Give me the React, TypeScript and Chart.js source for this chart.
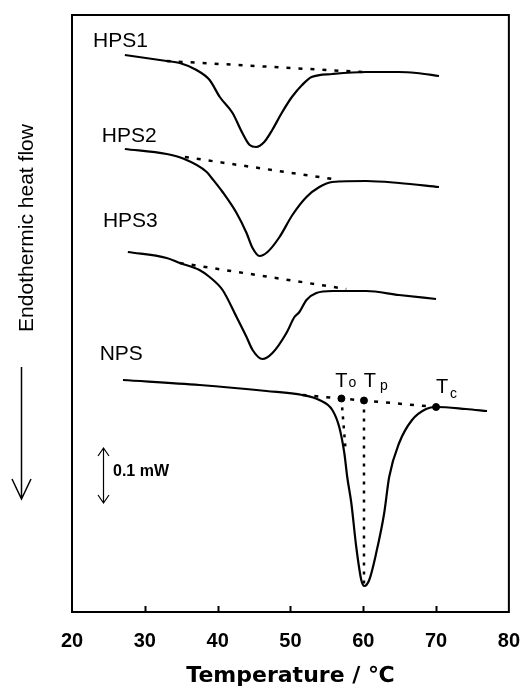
import React, { useEffect, useRef } from "react";
import { Chart, registerables } from "chart.js";

Chart.register(...registerables);

// Temperature (°C) and heat-flow (arbitrary units, offset per curve)
const HPS1_T = [27.26, 33.0, 34.8, 37.1, 38.9, 40.3, 42.05, 43.4, 44.4, 45.3, 46.4, 47.5, 48.8, 50.2, 51.6, 52.9, 55.75, 60.4, 64.9, 67.3, 70.4];
const HPS1_V = [557, 551, 549, 542, 532, 515, 499, 479, 467, 465, 470, 482, 499, 515, 527, 535, 538, 540, 540, 539, 536];
const HPS1_BASE_T = [33.0, 59.86];
const HPS1_BASE_V = [551, 540];

const HPS2_T = [27.26, 33.0, 35.07, 38.5, 39.18, 40.68, 42.6, 43.97, 44.8, 45.75, 46.85, 48.5, 50.27, 52.2, 53.97, 55.75, 60.4, 64.9, 70.4];
const HPS2_V = [463, 458, 454, 440, 434, 420, 399, 379, 364, 356, 360, 375, 397, 415, 425, 430, 431, 429, 425];
const HPS2_BASE_T = [35.5, 56.7];
const HPS2_BASE_V = [455, 432];

const HPS3_T = [27.67, 33.0, 34.8, 37.5, 38.9, 40.68, 42.6, 43.97, 44.8, 46.16, 47.53, 49.45, 50.55, 51.23, 52.2, 53.56, 55.75, 60.4, 64.9, 70.0];
const HPS3_V = [360, 354, 349, 342, 335, 322, 295, 275, 262, 253, 259, 279, 295, 300, 312, 319, 321, 321, 317, 313];
const HPS3_BASE_T = [34.8, 57.67];
const HPS3_BASE_V = [349, 323];

const NPS_T = [27.0, 37.53, 46.7, 51.64, 53.97, 55.75, 56.7, 57.4, 57.8, 58.36, 59.04, 59.73, 60.14, 60.82, 61.78, 62.88, 63.56, 64.93, 66.7, 68.63, 70.0, 74.1, 77.0];
const NPS_V = [232, 227, 221, 217, 212, 202, 185, 159, 135, 109, 65, 32, 26, 32, 59, 99, 135, 169, 192, 203, 205, 203, 201];
const NPS_BASE_T = [51.64, 70.0];
const NPS_BASE_V = [217, 205];

// Characteristic temperatures of NPS
const MARK_NAMES = ["o", "p", "c"];
const MARK_T = [57.0, 60.1, 70.0];
const MARK_V = [213.5, 211.5, 205];
const TO_DROP_T = [57.0, 57.6];
const TO_DROP_V = [213.5, 160];
const TP_DROP_T = [60.1, 60.1];
const TP_DROP_V = [211.5, 26];

const CURVE_NAMES = ["HPS1", "HPS2", "HPS3", "NPS"];
const CURVE_LABEL_T = [22.9, 24.1, 24.25, 23.8];
const CURVE_LABEL_V = [565, 470, 385, 252];

const X_TICKS = [20, 30, 40, 50, 60, 70, 80];
const X_TITLE = "Temperature / ℃";
const Y_TITLE = "Endothermic heat flow";
const SCALE_BAR = "0.1 mW";

const FONT = "'Liberation Sans', Arial, Helvetica, sans-serif";
const TICK_FONT = "'Liberation Sans Narrow', 'Liberation Sans', Arial, sans-serif";
const TITLE_FONT = "'DejaVu Sans', 'Liberation Sans', sans-serif";

const pts = (t: number[], v: number[]) => t.map((x, i) => ({ x, y: v[i] }));

const solid = (label: string, t: number[], v: number[]) => ({
  label,
  data: pts(t, v),
  borderColor: "#000",
  borderWidth: 2.2,
  pointRadius: 0,
  fill: false,
  cubicInterpolationMode: "monotone" as const,
});
const dashed = (label: string, t: number[], v: number[], dash: number[]) => ({
  label,
  data: pts(t, v),
  borderColor: "#000",
  borderWidth: 2.5,
  borderDash: dash,
  pointRadius: 0,
  fill: false,
});

// subscript placement relative to the "T" (dx from T centre, dy from T baseline)
const SUB_DX = [7, 10, 8];
const SUB_DY = [0, 3, 5];
const T_RAISE = [12, 14, 14];
const T_SHIFT = [0, 6, 6];

const overlay = {
  id: "overlay",
  afterDatasetsDraw(chart: any) {
    const { ctx, chartArea: a, scales } = chart;
    const xs = scales.x;
    const ys = scales.y;
    ctx.save();
    ctx.strokeStyle = "#000";
    ctx.fillStyle = "#000";
    // frame
    ctx.lineWidth = 2;
    ctx.strokeRect(a.left, a.top, a.right - a.left, a.bottom - a.top);
    // inward ticks
    ctx.lineWidth = 2;
    X_TICKS.slice(1, -1).forEach((t) => {
      const px = Math.round(xs.getPixelForValue(t)) + 0.5;
      ctx.beginPath();
      ctx.moveTo(px, a.bottom);
      ctx.lineTo(px, a.bottom - 6);
      ctx.stroke();
    });
    // curve labels
    ctx.font = `21px ${FONT}`;
    ctx.textAlign = "left";
    ctx.textBaseline = "alphabetic";
    CURVE_NAMES.forEach((n, i) => {
      ctx.fillText(n, xs.getPixelForValue(CURVE_LABEL_T[i]), ys.getPixelForValue(CURVE_LABEL_V[i]));
    });
    // T labels
    MARK_NAMES.forEach((s, i) => {
      const px = xs.getPixelForValue(MARK_T[i]) + T_SHIFT[i];
      const py = ys.getPixelForValue(MARK_V[i]) - T_RAISE[i];
      ctx.font = `20px ${FONT}`;
      ctx.textAlign = "center";
      ctx.fillText("T", px, py);
      ctx.font = `14px ${FONT}`;
      ctx.textAlign = "left";
      ctx.fillText(s, px + SUB_DX[i], py + SUB_DY[i]);
    });
    // y title with arrow
    ctx.save();
    ctx.translate(27, 228);
    ctx.rotate(-Math.PI / 2);
    ctx.font = `21px ${FONT}`;
    ctx.textAlign = "center";
    ctx.textBaseline = "middle";
    ctx.fillText(Y_TITLE, 0, 0);
    ctx.restore();
    ctx.lineWidth = 1.5;
    ctx.beginPath();
    ctx.moveTo(21.5, 367);
    ctx.lineTo(21.5, 499);
    ctx.moveTo(12, 479);
    ctx.lineTo(21.5, 499);
    ctx.lineTo(31, 479);
    ctx.stroke();
    // scale bar
    ctx.lineWidth = 1.2;
    ctx.beginPath();
    ctx.moveTo(103.5, 448);
    ctx.lineTo(103.5, 503);
    ctx.moveTo(98, 456);
    ctx.lineTo(103.5, 448);
    ctx.lineTo(109, 456);
    ctx.moveTo(98, 495);
    ctx.lineTo(103.5, 503);
    ctx.lineTo(109, 495);
    ctx.stroke();
    ctx.font = `bold 16px ${FONT}`;
    ctx.textAlign = "left";
    ctx.textBaseline = "middle";
    ctx.fillText(SCALE_BAR, 113, 472);
    ctx.restore();
  },
};

export default function App() {
  const ref = useRef<HTMLCanvasElement | null>(null);
  useEffect(() => {
    if (!ref.current) return;
    const chart = new Chart(ref.current, {
      type: "line",
      data: {
        datasets: [
          solid("HPS1", HPS1_T, HPS1_V),
          dashed("HPS1 base", HPS1_BASE_T, HPS1_BASE_V, [4, 8]),
          solid("HPS2", HPS2_T, HPS2_V),
          dashed("HPS2 base", HPS2_BASE_T, HPS2_BASE_V, [4, 8]),
          solid("HPS3", HPS3_T, HPS3_V),
          dashed("HPS3 base", HPS3_BASE_T, HPS3_BASE_V, [4, 8]),
          solid("NPS", NPS_T, NPS_V),
          dashed("NPS base", NPS_BASE_T, NPS_BASE_V, [4, 8]),
          dashed("To drop", TO_DROP_T, TO_DROP_V, [3, 6]),
          dashed("Tp drop", TP_DROP_T, TP_DROP_V, [3, 6]),
          {
            label: "marks",
            data: pts(MARK_T, MARK_V),
            showLine: false,
            pointRadius: 3.5,
            pointBackgroundColor: "#000",
            pointBorderColor: "#000",
          } as any,
        ],
      },
      options: {
        responsive: false,
        animation: false,
        events: [],
        layout: { padding: { left: 72, right: 0, top: 15, bottom: 0 } },
        plugins: { legend: { display: false }, tooltip: { enabled: false }, title: { display: false } },
        scales: {
          x: {
            type: "linear",
            min: 20,
            max: 80,
            afterBuildTicks: (s: any) => {
              s.ticks = X_TICKS.map((v) => ({ value: v }));
            },
            grid: { display: false, drawTicks: false },
            border: { display: false },
            ticks: {
              color: "#000",
              font: { family: TICK_FONT, size: 20, weight: "bold", lineHeight: "50px" },
              padding: 4,
              maxRotation: 0,
            },
            title: {
              display: true,
              text: X_TITLE,
              color: "#000",
              font: { family: TITLE_FONT, size: 22, weight: "bold", lineHeight: "12px" },
              padding: { top: 0, bottom: 7 },
            },
          },
          y: { display: false, min: 0, max: 597 },
        },
      },
      plugins: [overlay],
    } as any);
    return () => chart.destroy();
  }, []);
  return (
    <div style={{ position: "absolute", left: 0, top: 0, width: 524, height: 689, background: "#fff" }}>
      <canvas ref={ref} width={524} height={689} style={{ display: "block" }} />
    </div>
  );
}
